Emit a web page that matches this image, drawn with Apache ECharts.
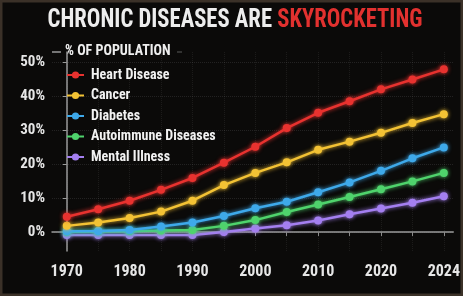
<!DOCTYPE html>
<html><head><meta charset="utf-8">
<script src="https://cdn.jsdelivr.net/npm/echarts@6/dist/echarts.min.js"></script>
<style>html,body{margin:0;padding:0;background:#0b0a09}#c{width:463px;height:296px}</style>
</head><body><div id="c"></div>
<script>
const years = ['1970','1975','1980','1985','1990','1995','2000','2005','2010','2015','2020','2022','2024'];
const xTickLabels = {0:'1970',2:'1980',4:'1990',6:'2000',8:'2010',10:'2020',12:'2024'};
const yTicks = [0,10,20,30,40,50];
const heart = [4.5,6.7,9.2,12.4,15.9,20.4,25.1,30.6,35.1,38.5,42.0,44.9,47.9];
const cancer = [1.8,2.8,4.1,6.0,9.2,13.8,17.4,20.5,24.2,26.6,29.2,32.1,34.7];
const diabetes = [0.2,0.3,0.6,1.6,2.8,4.7,7.0,8.9,11.7,14.6,18.0,21.7,24.9];
const autoimmune = [0.1,0.2,0.3,0.4,0.6,1.8,3.5,5.9,8.1,10.3,12.6,14.9,17.4];
const mental = [-0.9,-0.9,-0.9,-0.9,-0.9,0.0,1.0,2.0,3.4,5.2,6.9,8.6,10.5];
const names = ['Heart Disease','Cancer','Diabetes','Autoimmune Diseases','Mental Illness'];
const colors = ['#e8322f','#f3c234','#3ea9ea','#4fd36c','#a47ff0'];
const seriesData = [heart,cancer,diabetes,autoimmune,mental];
const titleWhite = 'CHRONIC DISEASES ARE ';
const titleRed = 'SKYROCKETING';

const FONT = '"Roboto Condensed","Open Sans Condensed",sans-serif';
const TITLE_SIZE = 25, TITLE_W = 375, TITLE_CX = 235;
const mc = document.createElement('canvas').getContext('2d');
mc.font = 'bold ' + TITLE_SIZE + 'px ' + FONT;
const wW = mc.measureText(titleWhite).width, wR = mc.measureText(titleRed).width;
const sx = TITLE_W / (wW + wR);
const tx0 = TITLE_CX - TITLE_W / 2;
const xIdx = years.map((y,i)=>i);

const chart = echarts.init(document.getElementById('c'), null, {renderer:'canvas'});
chart.setOption({
  backgroundColor: '#0b0a09',
  animation: false,
  graphic: [
    {type:'text', x:tx0, y:8, scaleX:sx, style:{text:titleWhite, fill:'#ededed', font:'bold '+TITLE_SIZE+'px '+FONT}},
    {type:'text', x:tx0 + wW*sx, y:8, scaleX:sx, style:{text:titleRed, fill:'#e2312f', font:'bold '+TITLE_SIZE+'px '+FONT}},
    {type:'line', shape:{x1:52,y1:52,x2:61,y2:52}, style:{stroke:'#9a9a9a', lineWidth:1.5}},
    {type:'line', shape:{x1:177,y1:52,x2:182,y2:52}, style:{stroke:'#5a5a5a', lineWidth:1}},
    {type:'text', x:65, y:44, style:{text:'% OF POPULATION', fill:'#eeeeee', font:'bold 14px '+FONT}},
    {type:'rect', shape:{x:0,y:0,width:463,height:296}, style:{fill:'none', stroke:'#3b3128', lineWidth:5}, silent:true}
  ],
  legend: {
    orient:'vertical', left:61, top:63, itemWidth:17, itemHeight:9, itemGap:6.5,
    data: names,
    textStyle:{color:'#f2f2f2', fontSize:14, fontWeight:'bold', fontFamily:FONT, padding:[0,0,0,2]}
  },
  grid: {left:52, right:5, top:52, bottom:45, containLabel:false},
  xAxis: {
    type:'value', min:-0.47, max:12.3,
    axisLine:{show:true, lineStyle:{color:'#9a9a9a', width:1.5}},
    axisTick:{show:true, customValues:xIdx, length:4, lineStyle:{color:'#8a8a8a'}},
    axisLabel:{customValues:[0,2,4,6,8,10,12], formatter:v=>xTickLabels[Math.round(v)]||'', color:'#e6e6e6', fontSize:16, fontWeight:'bold', fontFamily:FONT, margin:13},
    splitLine:{show:true, customValues:[0,2,4,6,8,10,12], lineStyle:{color:'rgba(255,255,255,0.07)', type:'dotted'}}
  },
  yAxis: {
    type:'value', min:-5.6, max:53,
    axisLine:{show:true, lineStyle:{color:'#9a9a9a', width:1.5}},
    axisTick:{show:true, customValues:yTicks, length:4, lineStyle:{color:'#9a9a9a'}},
    axisLabel:{customValues:yTicks, formatter:'{value}%', color:'#e6e6e6', fontSize:15, fontWeight:'bold', fontFamily:FONT, margin:7},
    splitLine:{show:true, customValues:yTicks, lineStyle:{color:'rgba(255,255,255,0.10)', type:'dotted'}}
  },
  series: names.map((n,i)=>({
    name:n, type:'line',
    data: seriesData[i].map((v,j)=>[xIdx[j],v]),
    symbol:'circle', symbolSize:8,
    z: 10 - i,
    lineStyle:{color:colors[i], width:2.5, shadowColor:colors[i], shadowBlur:4},
    itemStyle:{color:colors[i], borderColor:colors[i], borderWidth:0, shadowColor:colors[i], shadowBlur:4}
  }))
});
</script></body></html>
